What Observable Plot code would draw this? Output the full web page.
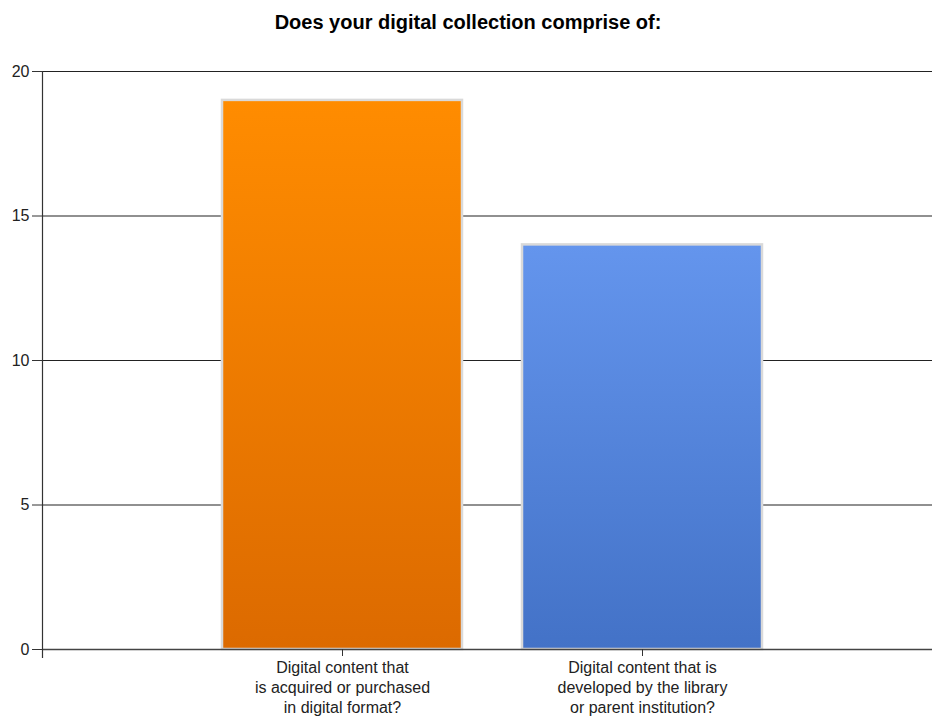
<!DOCTYPE html>
<html>
<head>
<meta charset="utf-8">
<script src="https://cdn.jsdelivr.net/npm/d3@7"></script>
<script src="https://cdn.jsdelivr.net/npm/@observablehq/plot@0.6"></script>
<style>
  html, body { margin: 0; padding: 0; background: #fff; }
  #title { height: 45px; width: 932px; text-align: center; font: bold 20px "Liberation Sans", Arial, sans-serif; line-height: 20px; box-sizing: border-box; }
  #title span { display: inline-block; margin-top: 12px; margin-left: 4px; color: #000; }
  svg { display: block; }
</style>
</head>
<body>
<div id="title"><span>Does your digital collection comprise of:</span></div>
<div id="chart"></div>
<script>
const categories = [
  "Digital content that\nis acquired or purchased\nin digital format?",
  "Digital content that is\ndeveloped by the library\nor parent institution?"
];
const values = [19, 14];
const gradientTop = ["#ff8c00", "#6495ed"];
const gradientBottom = ["#dc6a00", "#4372c7"];
const yTicks = [0, 5, 10, 15, 20];

const data = categories.map((c, i) => ({category: c, value: values[i], fill: `url(#grad${i})`}));

const defs = () => {
  const d = d3.create("svg:defs");
  categories.forEach((c, i) => {
    const g = d.append("linearGradient").attr("id", `grad${i}`).attr("x1", 0).attr("y1", 0).attr("x2", 0).attr("y2", 1);
    g.append("stop").attr("offset", "0%").attr("stop-color", gradientTop[i]);
    g.append("stop").attr("offset", "100%").attr("stop-color", gradientBottom[i]);
  });
  return d.node();
};

const yAxisLine = (index, scales, values, dims) => {
  const l = d3.create("svg:line")
    .attr("x1", dims.marginLeft + 0.5).attr("x2", dims.marginLeft + 0.5)
    .attr("y1", scales.y(20)).attr("y2", scales.y(0) + 9)
    .attr("stroke", "#333").attr("stroke-width", 1.2);
  return l.node();
};

const chart = Plot.plot({
  width: 932,
  height: 671,
  marginTop: 26,
  marginBottom: 67,
  marginLeft: 42,
  marginRight: 0,
  style: {fontFamily: "'Liberation Sans', Arial, sans-serif", fontSize: "16px", color: "#222", background: "#fff"},
  x: {domain: categories, range: [42, 942], paddingInner: 0.2, paddingOuter: 0.6, label: null},
  y: {domain: [0, 20], label: null},
  color: {type: "identity"},
  marks: [
    defs,
    Plot.ruleY(yTicks, {stroke: "#222", strokeWidth: 1.1}),
    Plot.barY(data, {x: "category", y: "value", fill: "fill", stroke: "#d9d9d9", strokeWidth: 2.5}),
    Plot.ruleY([0], {stroke: "#444", strokeWidth: 1.3}),
    yAxisLine,
    Plot.axisY({ticks: yTicks, tickSize: 10, tickPadding: 3, fontSize: 16, stroke: "#333", fill: "#222", label: null}),
    Plot.axisX({tickSize: 7, tickPadding: 2, fontSize: 16, lineHeight: 1.25, stroke: "#333", fill: "#222", label: null})
  ]
});
document.getElementById("chart").appendChild(chart);
</script>
</body>
</html>
